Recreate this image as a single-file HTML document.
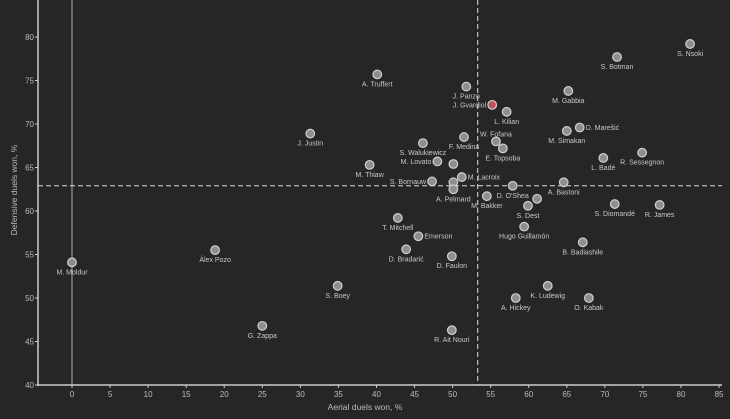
<!DOCTYPE html>
<html><head><meta charset="utf-8"><style>
html,body{margin:0;padding:0;background:#262626;}
svg{display:block;font-family:"Liberation Sans",sans-serif;}
</style></head><body>
<svg id="chart" width="730" height="419">
<rect width="730" height="419" fill="#262626"/>
</svg>
<script>
const names=["S. Nsoki","S. Botman","M. Gabbia","A. Truffert","J. Panzo","J. Gvardiol","L. Kilian","D. Marešić","M. Simakan","J. Justin","W. Fofana","F. Medina","E. Topsoba","S. Walukiewicz","R. Sessegnon","L. Badé","M. Lovato","M. Thiaw","","M. Lacroix","S. Bornauw","","A. Pelmard","A. Bastoni","D. O'Shea","M. Bakker","","S. Dest","S. Diomandé","R. James","T. Mitchell","Hugo Guillamón","Emerson","B. Badiashile","D. Bradarić","D. Faulon","Álex Pozo","M. Moldur","S. Boey","K. Ludewig","A. Hickey","O. Kabak","G. Zappa","R. Ait Nouri"];
const aerial=[81.2,71.6,65.2,40.1,51.8,55.2,57.1,66.7,65.0,31.3,55.7,51.5,56.6,46.1,74.9,69.8,48.0,39.1,50.1,51.2,47.3,50.1,50.1,64.6,57.9,54.5,61.1,59.9,71.3,77.2,42.8,59.4,45.5,67.1,43.9,49.9,18.8,0,34.9,62.5,58.3,67.9,25.0,49.9];
const defensive=[79.2,77.7,73.8,75.7,74.3,72.2,71.4,69.6,69.2,68.9,68.0,68.5,67.2,67.8,66.7,66.1,65.7,65.3,65.4,63.9,63.4,63.3,62.5,63.3,62.9,61.7,61.4,60.6,60.8,60.7,59.2,58.2,57.1,56.4,55.6,54.8,55.5,54.1,51.4,51.4,50.0,50.0,46.8,46.3];
const labelPos=["b","b","b","b","b","l","b","r","b","b","tb","b","b","b","b","b","l","b","n","r","l","n","b","b","b","b","n","b","b","b","b","b","r","b","b","b","b","b","b","b","b","b","b","b"];
const xTicks=[0,5,10,15,20,25,30,35,40,45,50,55,60,65,70,75,80,85];
const yTicks=[40,45,50,55,60,65,70,75,80];
const meanX=[53.3], meanY=[62.9];
const highlight=["J. Gvardiol"];
const X=v=>72+v*7.612, Y=v=>385-(v-40)*8.7;
const svg=document.getElementById('chart');const NS='http://www.w3.org/2000/svg';
function mk(t,a,p){const e=document.createElementNS(NS,t);for(const k in a)e.setAttribute(k,a[k]);(p||svg).appendChild(e);return e;}
let e;
e=mk('line',{x1:X(0),x2:X(0),y1:0,y2:385,stroke:'#aaa','stroke-width':1});


e=mk('line',{x1:X(meanX[0]),x2:X(meanX[0]),y1:0,y2:385,stroke:'#ddd','stroke-width':1,'stroke-dasharray':'5,3'});


e=mk('line',{x1:38,x2:722,y1:Y(meanY[0]),y2:Y(meanY[0]),stroke:'#ddd','stroke-width':1,'stroke-dasharray':'5,3'});


e=mk('line',{x1:38,x2:38,y1:0,y2:386,stroke:'#ccc','stroke-width':1.5});


e=mk('line',{x1:37,x2:722,y1:385,y2:385,stroke:'#ccc','stroke-width':1.5});


xTicks.forEach(t=>{mk('line',{x1:X(t),x2:X(t),y1:385,y2:388,stroke:'#ccc'});
e=mk('text',{x:X(t),y:397,'text-anchor':'middle','font-size':8,fill:'#bbb'});e.textContent=t;

});
yTicks.forEach(t=>{mk('line',{x1:35,x2:38,y1:Y(t),y2:Y(t),stroke:'#ccc'});
e=mk('text',{x:34,y:Y(t)+3,'text-anchor':'end','font-size':8,fill:'#bbb'});e.textContent=t;

});
e=mk('text',{x:365,y:410,'text-anchor':'middle','font-size':8.5,fill:'#bbb'});e.textContent='Aerial duels won, %';


e=mk('text',{x:0,y:0,'text-anchor':'middle','font-size':8.5,fill:'#bbb',transform:'translate(17,190) rotate(-90)'});e.textContent='Defensive duels won, %';


names.forEach((n,i)=>{const cx=X(aerial[i]),cy=Y(defensive[i]);
e=mk('circle',{cx:cx,cy:cy,r:4.3,fill:highlight.includes(n)?'#c0505a':'#8e8e8e',stroke:'#d0d0d0','stroke-width':1.2});


const p=labelPos[i];if(p==='n'||!n)return;
let a={'font-size':7,fill:'#c8c8c8'};
if(p==='l'){a.x=cx-6;a.y=cy+2.5;a['text-anchor']='end';}
else if(p==='r'){a.x=cx+6;a.y=cy+2.5;a['text-anchor']='start';}
else if(p==='tb'){a.x=cx;a.y=cy-5;a['text-anchor']='middle';}
else{a.x=cx;a.y=cy+12;a['text-anchor']='middle';}
e=mk('text',a);e.textContent=n;

});
</script>
</body></html>
